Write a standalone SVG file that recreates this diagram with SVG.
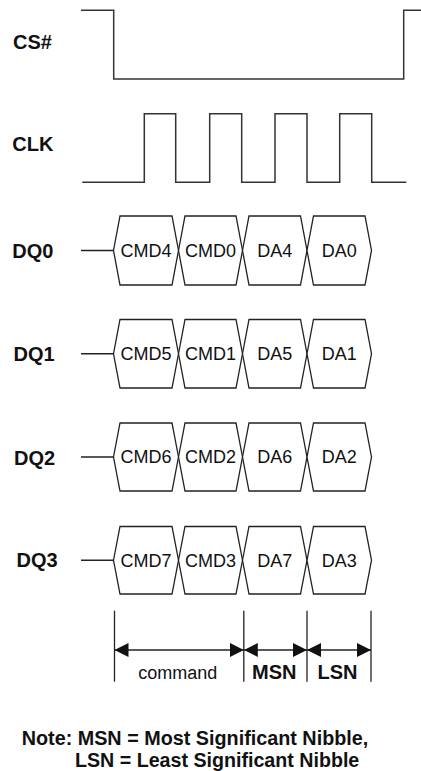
<svg xmlns="http://www.w3.org/2000/svg" width="421" height="771" viewBox="0 0 421 771">
<style>
.wave{fill:none;stroke:#333;stroke-width:1.5;stroke-linejoin:miter}
.cell{fill:#fff;stroke:#222;stroke-width:1.3;stroke-linejoin:miter}
.lead{fill:none;stroke:#222;stroke-width:1.3}
.lbl{font-family:"Liberation Sans",Arial,sans-serif;font-weight:bold;font-size:20px;fill:#111}
.ct{font-family:"Liberation Sans",Arial,sans-serif;font-size:18px;fill:#111;text-anchor:middle}
.dim{fill:none;stroke:#222;stroke-width:1.3}
.note{font-family:"Liberation Sans",Arial,sans-serif;font-weight:bold;font-size:20px;fill:#111}
</style>
<defs>
<marker id="ah" viewBox="0 0 14 14" refX="14" refY="7" markerWidth="14" markerHeight="14" markerUnits="userSpaceOnUse" orient="auto-start-reverse">
<path d="M0,0 L14,7 L0,14 z" fill="#111"/>
</marker>
</defs>
<rect width="421" height="771" fill="#fff"/>

<g id="cs">
<text class="lbl" x="13" y="49">CS#</text>
<path class="wave" d="M81,10.3 H113.7 V79 H403.7 V10.3 H421"/>
</g>

<g id="clk">
<text class="lbl" x="12.3" y="150.7">CLK</text>
<path class="wave" d="M82.3,182.3 H144.3 V113.7 H175.7 V182.3 H209.7 V113.7 H241.7 V182.3 H275 V113.7 H307 V182.3 H339.7 V113.7 H371.7 V182.3 H406.3"/>
</g>

<g id="dq0">
<text class="lbl" x="12.3" y="257.5">DQ0</text>
<line class="lead" x1="81" y1="250.5" x2="113.5" y2="250.5"/>
<g id="dq0-c0"><polygon class="cell" points="113.5,250.5 120,216 172,216 178.5,250.5 172,285 120,285"/><text class="ct" x="146" y="256.8">CMD4</text></g>
<g id="dq0-c1"><polygon class="cell" points="178.5,250.5 185,216 236,216 242.5,250.5 236,285 185,285"/><text class="ct" x="210.5" y="256.8">CMD0</text></g>
<g id="dq0-c2"><polygon class="cell" points="242.5,250.5 249,216 300.5,216 307,250.5 300.5,285 249,285"/><text class="ct" x="274.75" y="256.8">DA4</text></g>
<g id="dq0-c3"><polygon class="cell" points="307,250.5 313.5,216 365,216 371.5,250.5 365,285 313.5,285"/><text class="ct" x="339.25" y="256.8">DA0</text></g>
</g>

<g id="dq1">
<text class="lbl" x="13.5" y="360.7">DQ1</text>
<line class="lead" x1="81" y1="353.75" x2="113.5" y2="353.75"/>
<g id="dq1-c0"><polygon class="cell" points="113.5,353.75 120,319.5 172,319.5 178.5,353.75 172,388 120,388"/><text class="ct" x="146" y="360">CMD5</text></g>
<g id="dq1-c1"><polygon class="cell" points="178.5,353.75 185,319.5 236,319.5 242.5,353.75 236,388 185,388"/><text class="ct" x="210.5" y="360">CMD1</text></g>
<g id="dq1-c2"><polygon class="cell" points="242.5,353.75 249,319.5 300.5,319.5 307,353.75 300.5,388 249,388"/><text class="ct" x="274.75" y="360">DA5</text></g>
<g id="dq1-c3"><polygon class="cell" points="307,353.75 313.5,319.5 365,319.5 371.5,353.75 365,388 313.5,388"/><text class="ct" x="339.25" y="360">DA1</text></g>
</g>

<g id="dq2">
<text class="lbl" x="14" y="464.5">DQ2</text>
<line class="lead" x1="81" y1="457" x2="113.5" y2="457"/>
<g id="dq2-c0"><polygon class="cell" points="113.5,457 120,423 172,423 178.5,457 172,491 120,491"/><text class="ct" x="146" y="463.3">CMD6</text></g>
<g id="dq2-c1"><polygon class="cell" points="178.5,457 185,423 236,423 242.5,457 236,491 185,491"/><text class="ct" x="210.5" y="463.3">CMD2</text></g>
<g id="dq2-c2"><polygon class="cell" points="242.5,457 249,423 300.5,423 307,457 300.5,491 249,491"/><text class="ct" x="274.75" y="463.3">DA6</text></g>
<g id="dq2-c3"><polygon class="cell" points="307,457 313.5,423 365,423 371.5,457 365,491 313.5,491"/><text class="ct" x="339.25" y="463.3">DA2</text></g>
</g>

<g id="dq3">
<text class="lbl" x="16.5" y="566.7">DQ3</text>
<line class="lead" x1="81" y1="560.25" x2="113.5" y2="560.25"/>
<g id="dq3-c0"><polygon class="cell" points="113.5,560.25 120,526.5 172,526.5 178.5,560.25 172,594 120,594"/><text class="ct" x="146" y="566.5">CMD7</text></g>
<g id="dq3-c1"><polygon class="cell" points="178.5,560.25 185,526.5 236,526.5 242.5,560.25 236,594 185,594"/><text class="ct" x="210.5" y="566.5">CMD3</text></g>
<g id="dq3-c2"><polygon class="cell" points="242.5,560.25 249,526.5 300.5,526.5 307,560.25 300.5,594 249,594"/><text class="ct" x="274.75" y="566.5">DA7</text></g>
<g id="dq3-c3"><polygon class="cell" points="307,560.25 313.5,526.5 365,526.5 371.5,560.25 365,594 313.5,594"/><text class="ct" x="339.25" y="566.5">DA3</text></g>
</g>

<g id="connectors">
<line class="dim" x1="114.5" y1="610.7" x2="114.5" y2="681.7"/>
<line class="dim" x1="243.8" y1="610.7" x2="243.8" y2="681.7"/>
<line class="dim" x1="307" y1="610.7" x2="307" y2="681.7"/>
<line class="dim" x1="371" y1="610.7" x2="371" y2="681.7"/>
<line class="dim" x1="114.5" y1="650" x2="243.8" y2="650" marker-start="url(#ah)" marker-end="url(#ah)"/>
<line class="dim" x1="243.8" y1="650" x2="307" y2="650" marker-start="url(#ah)" marker-end="url(#ah)"/>
<line class="dim" x1="307" y1="650" x2="371" y2="650" marker-start="url(#ah)" marker-end="url(#ah)"/>
</g>

<g id="spans">
<text class="ct" x="177.8" y="678.5">command</text>
<text class="lbl" x="274.2" y="678.5" text-anchor="middle">MSN</text>
<text class="lbl" x="337.5" y="678.5" text-anchor="middle">LSN</text>
</g>

<g id="note">
<text class="note" x="21.7" y="745" textLength="346.6" lengthAdjust="spacingAndGlyphs">Note: MSN = Most Significant Nibble,</text>
<text class="note" x="75" y="766.5" textLength="284.3" lengthAdjust="spacingAndGlyphs">LSN = Least Significant Nibble</text>
</g>
</svg>
